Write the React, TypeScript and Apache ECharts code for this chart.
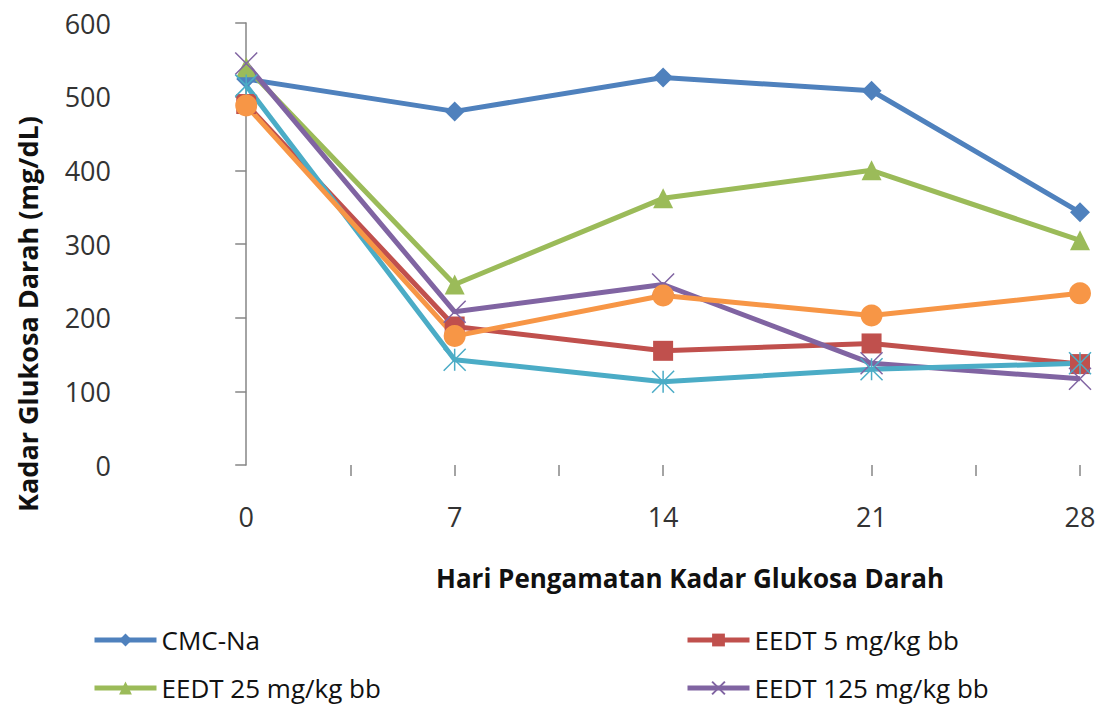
import React, { useEffect, useRef } from "react";
import * as echarts from "echarts";

const days = [0, 7, 14, 21, 28];
const xTickValues = [3.5, 7, 10.5, 14, 21, 24.5, 28];
const xLabelValues = [0, 7, 14, 21, 28];
const cmcNa = [524, 480, 526, 508, 343];
const eedt5 = [490, 188, 155, 165, 137];
const eedt25 = [540, 245, 362, 400, 305];
const eedt125 = [545, 208, 245, 138, 117];
const series5 = [515, 143, 113, 130, 138];
const series6 = [488, 175, 230, 203, 233];
const xTitle = "Hari Pengamatan Kadar Glukosa Darah";
const yTitle = "Kadar Glukosa Darah (mg/dL)";

const FONT = "Open Sans";

export default function App() {
  const ref = useRef<HTMLDivElement>(null);
  useEffect(() => {
    if (!ref.current) return;
    const chart = echarts.init(ref.current, undefined, { renderer: "svg" });
    const pts = (arr: number[]) => days.map((d, i) => [d, arr[i]]);
    const mk = (name: string, data: number[], color: string, symbol: string, size: number, stroke = false) => ({
      name,
      type: "line",
      data: pts(data),
      symbol,
      symbolSize: size,
      lineStyle: { color, width: 5 },
      itemStyle: stroke
        ? { color, borderColor: color, borderWidth: 1.5 }
        : { color, borderColor: color, borderWidth: 0 },
      z: 2,
    });
    const leg = (name: string, left: number, top: number) => ({
      data: [name],
      orient: "horizontal",
      left,
      top,
      padding: 0,
      itemWidth: 62,
      itemHeight: 16,
      lineStyle: { width: 5 },
      textStyle: { fontFamily: FONT, fontSize: 26, color: "#111111" },
    });
    chart.setOption({
      animation: false,
      backgroundColor: "#ffffff",
      grid: { left: 142, right: 22, top: 23, bottom: 244 },
      xAxis: {
        type: "value",
        min: -3.5,
        max: 28,
        interval: 3.5,
        axisLine: { show: false },
        splitLine: { show: false },
        axisTick: {
          show: true,
          customValues: xTickValues,
          length: 11,
          lineStyle: { color: "#868686", width: 1.5 },
        },
        axisLabel: {
          customValues: xLabelValues,
          fontFamily: FONT,
          fontSize: 27,
          color: "#333333",
          margin: 38,
        },
      },
      yAxis: {
        type: "value",
        min: 0,
        max: 600,
        interval: 100,
        axisLine: { show: true, lineStyle: { color: "#868686", width: 1.5 } },
        axisTick: { show: true, length: 11, lineStyle: { color: "#868686", width: 1.5 } },
        splitLine: { show: false },
        axisLabel: {
          fontFamily: FONT,
          fontSize: 27,
          color: "#333333",
          margin: 31,
        },
      },
      graphic: [
        {
          type: "text",
          x: 690,
          y: 578,
          style: {
            text: xTitle,
            fontFamily: FONT,
            fontSize: 26,
            fontWeight: "bold",
            fill: "#111111",
            align: "center",
            verticalAlign: "middle",
          },
        },
        {
          type: "text",
          x: 27,
          y: 314,
          rotation: Math.PI / 2,
          style: {
            text: yTitle,
            fontFamily: FONT,
            fontSize: 27,
            fontWeight: "bold",
            fill: "#111111",
            align: "center",
            verticalAlign: "middle",
          },
        },
      ],
      legend: [
        leg("CMC-Na", 92, 627),
        leg("EEDT 25 mg/kg bb", 92, 675),
        leg("EEDT 5 mg/kg bb", 685, 627),
        leg("EEDT 125 mg/kg bb", 685, 675),
      ],
      series: [
        mk("CMC-Na", cmcNa, "#4F81BD", "diamond", 20),
        mk("EEDT 5 mg/kg bb", eedt5, "#C0504D", "rect", 20),
        mk("EEDT 25 mg/kg bb", eedt25, "#9BBB59", "triangle", 20),
        mk("EEDT 125 mg/kg bb", eedt125, "#8064A2", "path://M0,0 L10,10 M10,0 L0,10", 22, true),
        mk("Seri 5", series5, "#4BACC6", "path://M0,0 L10,10 M10,0 L0,10 M5,0 L5,10", 22, true),
        mk("Seri 6", series6, "#F79646", "circle", 22),
      ],
    });
    return () => chart.dispose();
  }, []);
  return <div ref={ref} style={{ width: 1102, height: 709, position: "absolute", left: 0, top: 0 }} />;
}
